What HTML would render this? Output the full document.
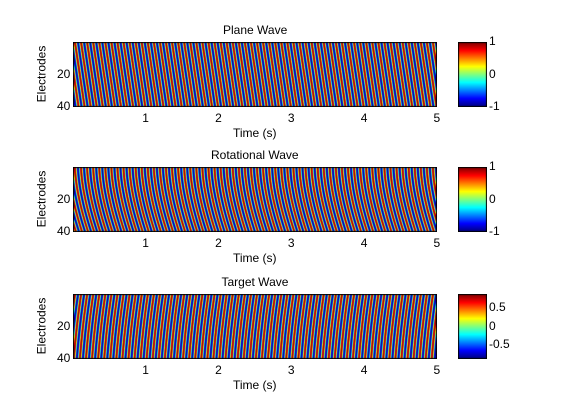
<!DOCTYPE html>
<html><head><meta charset="utf-8"><style>
body{margin:0;background:#fff;width:561px;height:420px;overflow:hidden;font-family:"Liberation Sans",sans-serif;}
#root{position:relative;width:561px;height:420px;}
.t{position:absolute;font-size:12px;color:#000;white-space:nowrap;}
canvas{position:absolute;}
</style></head><body><div id="root"></div>
<script>
// Panel definitions (data)
const panelTitles=["Plane Wave","Rotational Wave","Target Wave"];
const panelTops=[42,167,294];
const xTicks=[1,2,3,4,5];
const yTicks=[20,40];
const cbTicks=[[1,0,-1],[1,0,-1],[0.5,0,-0.5]];
const cbRange=[[-1,1],[-1,1],[-0.9,0.9]];
const tMax=5, nElec=41;
const freq=12; // cycles per second
const L=73,R=437,H=65;
const root=document.getElementById('root');
function jet(v){v=Math.max(0,Math.min(1,v));
 const r=Math.max(0,Math.min(1,1.5-Math.abs(4*v-3))),g=Math.max(0,Math.min(1,1.5-Math.abs(4*v-2))),b=Math.max(0,Math.min(1,1.5-Math.abs(4*v-1)));
 return [r*255,g*255,b*255];}
function phase(p,t,e){
 const u=e/40;
 if(p===0) return freq*t - 1.6*u;
 if(p===1) return freq*t - 2.2*Math.pow(u,1.6);
 return freq*t + 1.6*u - 0.4*u*u;}
function txt(s,x,y,name){const d=document.createElement('div');d.className='t';d.textContent=s;d.style.left=x+'px';d.style.top=y+'px';
 
 
 root.appendChild(d);return d;}
panelTops.forEach((top,p)=>{
 const c=document.createElement('canvas');c.width=R-L;c.height=H;c.style.left=L+'px';c.style.top=top+'px';
 
 
 root.appendChild(c);
 const ctx=c.getContext('2d');const img=ctx.createImageData(c.width,H);
 for(let y=0;y<H;y++)for(let x=0;x<c.width;x++){
  const t=x/c.width*tMax,e=y/H*(nElec-1);
  const v=Math.sin(2*Math.PI*phase(p,t,e));
  const [r,g,b]=jet((v+1)/2);const i=(y*c.width+x)*4;img.data[i]=r;img.data[i+1]=g;img.data[i+2]=b;img.data[i+3]=255;}
 ctx.putImageData(img,0,0);
 ctx.strokeStyle='#000';ctx.lineWidth=1;ctx.strokeRect(0.5,0.5,c.width-1,H-1);
 const tt=txt(panelTitles[p],0,top-19,'panel-title-'+(p+1));tt.style.left=(255-tt.offsetWidth/2)+'px';
 xTicks.forEach(v=>{const x=L+v/tMax*(R-L);const d=txt(String(v),0,top+H+4,'x-tick-'+v);d.style.left=(x-d.offsetWidth/2)+'px';});
 yTicks.forEach(v=>{const y=top+v/(nElec-1)*H;const d=txt(String(v),0,y-8,'y-tick-'+v);d.style.left=(L-3-d.offsetWidth)+'px';});
 const xl=txt('Time (s)',0,top+H+19,'x-axis-title');xl.style.left=(255-xl.offsetWidth/2)+'px';
 const yl=txt('Electrodes',0,top+H/2-8,'y-axis-title');yl.style.left=(41-yl.offsetWidth/2)+'px';yl.style.transform='rotate(-90deg)';
 const cb=document.createElement('canvas');cb.width=29;cb.height=H;cb.style.left='458px';cb.style.top=top+'px';
 
 
 root.appendChild(cb);const cc=cb.getContext('2d');
 for(let y=0;y<H;y++){const [r,g,b]=jet(1-y/(H-1));cc.fillStyle=`rgb(${r|0},${g|0},${b|0})`;cc.fillRect(0,y,29,1);}
 cc.strokeStyle='#000';cc.strokeRect(0.5,0.5,28,H-1);
 const [lo,hi]=cbRange[p];
 cbTicks[p].forEach(v=>{const y=top+(hi-v)/(hi-lo)*H;txt(String(v),489,y-8,'colorbar-tick');});
});
</script></body></html>
